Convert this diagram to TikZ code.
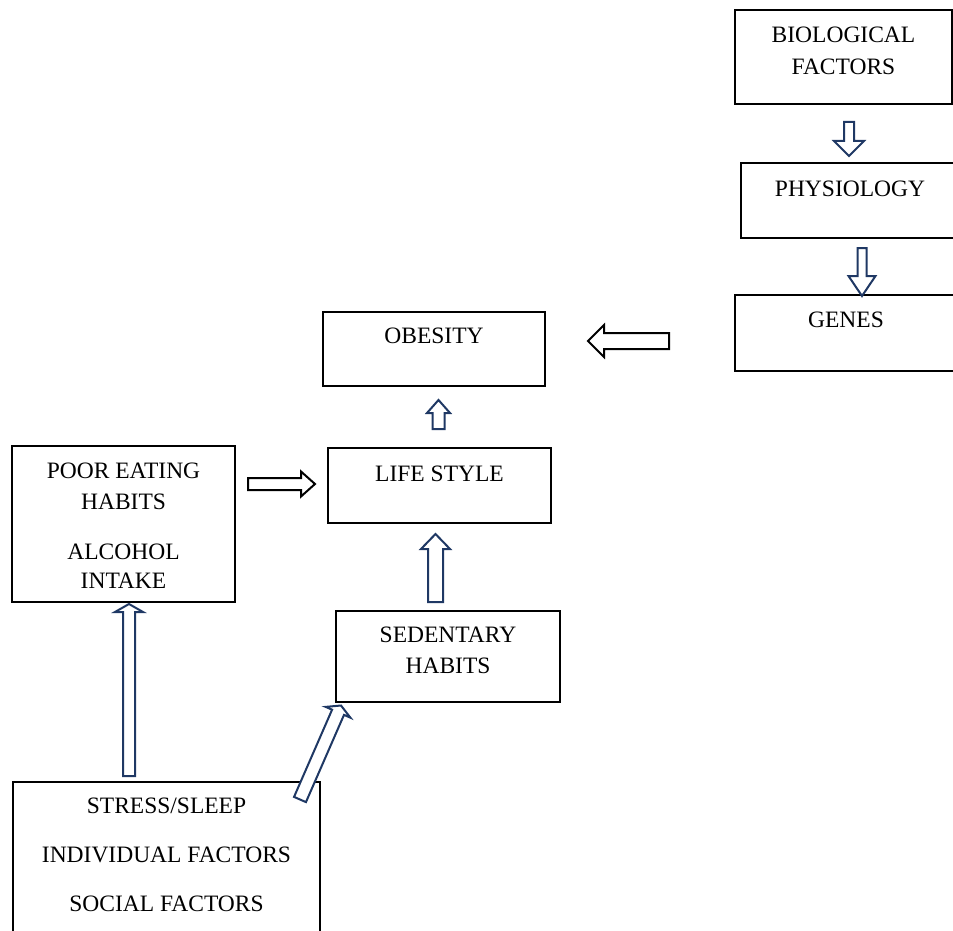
\documentclass[tikz,border=0pt]{standalone}
\usepackage{fontspec}
\setmainfont{Liberation Serif}
\usepackage{xcolor}
\usepackage{tikz}
\usetikzlibrary{calc}
\definecolor{navy}{HTML}{1F3864}
\newcommand{\px}{0.5pt}
% hollow block arrow: [colour]{tail}{tip}{shaft half}{head half}{head length}
\newcommand{\blkarrow}[6][navy]{%
  \coordinate (hb) at ($(#3)!#6!(#2)$);
  \draw[barrow, draw=#1]
    ($(#2)!#4!90:(#3)$) -- ($(hb)!#4!90:(#3)$) -- ($(hb)!#5!90:(#3)$)
    -- (#3) -- ($(hb)!#5!-90:(#3)$) -- ($(hb)!#4!-90:(#3)$)
    -- ($(#2)!#4!-90:(#3)$) -- cycle;}
\tikzset{
  box/.style 2 args={draw, line width=1pt, inner sep=0pt,
              minimum width=#1*\px, minimum height=#2*\px},
  txt/.style={font=\fontsize{11.75}{15}\selectfont, inner sep=0pt,
              align=center, anchor=north},
  barrow/.style={line width=1pt, line join=miter, fill=white},
}
\begin{document}
\begin{tikzpicture}[x=\px, y=-\px]
\useasboundingbox (0,0) rectangle (953,931);
\clip (0,0) rectangle (953,931);

% ---- biological chain ----
\node[box={217}{94}] (bio)   at (843.5,57)  {};
\node[box={218}{75}] (phys)  at (850,200.5) {};
\node[box={222}{76}] (genes) at (846,333)   {};

% ---- centre column ----
\node[box={222}{74}] (obes) at (434,349)   {};
\node[box={223}{75}] (life) at (439.5,485.5) {};
\node[box={224}{91}] (sed)  at (448,656.5) {};

% ---- left column ----
\node[box={223}{156}] (poor) at (123.5,524) {};
\node[box={307}{178}] (soc)  at (166.5,871) {};

% ---- texts ----
\node[txt] (bio-t)   at ($(bio.north)+(0,18)$)   {BIOLOGICAL\\[1pt]FACTORS};
\node[txt] (phys-t)  at ($(phys.north)+(0,19)$)  {PHYSIOLOGY};
\node[txt] (genes-t) at ($(genes.north)+(0,18)$) {GENES};
\node[txt] (obes-t)  at ($(obes.north)+(0,17)$)  {OBESITY};
\node[txt] (life-t)  at ($(life.north)+(0,19)$)  {LIFE STYLE};
\node[txt] (sed-t)   at ($(sed.north)+(0,17)$)   {SEDENTARY\\[0.5pt]HABITS};
\node[txt] (poor-t)  at ($(poor.north)+(0,18)$)
  {POOR EATING\\[0.5pt]HABITS\\[10pt]ALCOHOL\\[-0.5pt]INTAKE};
\node[txt] (soc-t)   at ($(soc.north)+(0,17)$)
  {STRESS/SLEEP\\[9.5pt]INDIVIDUAL FACTORS\\[9.5pt]SOCIAL FACTORS};

% ---- arrow ends ----
\coordinate (a1s) at ($(bio.south)+(5.5,17)$);
\coordinate (a1t) at ($(phys.north)+(-1,-6)$);
\coordinate (a2s) at ($(phys.south)+(12,9)$);
\coordinate (a2t) at ($(genes.north)+(16,2)$);
\coordinate (a3s) at ($(genes.west)+(-65,8)$);
\coordinate (a3t) at ($(obes.east)+(42,-8)$);
\coordinate (a4s) at ($(life.north)+(-1,-18)$);
\coordinate (a4t) at ($(obes.south)+(4.5,13)$);
\coordinate (a5s) at ($(sed.north)+(-12.5,-8)$);
\coordinate (a5t) at ($(life.south)+(-4,10)$);
\coordinate (a6s) at ($(poor.east)+(12,-40)$);
\coordinate (a6t) at ($(life.west)+(-12,-1.5)$);
\coordinate (a7s) at ($(soc.north)+(-37.5,-5)$);
\coordinate (a7t) at ($(poor.south)+(5.5,1)$);
\coordinate (a8s) at ($(soc.north east)+(-21,18.5)$);
\coordinate (a8t) at ($(sed.south west)+(6,2.5)$);

% ---- block arrows ----
\blkarrow{a1s}{a1t}{2.5pt}{7.5pt}{7.5pt}
\blkarrow{a2s}{a2t}{2.25pt}{6.75pt}{10pt}
\blkarrow[black]{a3s}{a3t}{4pt}{8pt}{8pt}
\blkarrow{a4s}{a4t}{3pt}{5.75pt}{6.5pt}
\blkarrow{a5s}{a5t}{3.75pt}{7.25pt}{7.5pt}
\blkarrow[black]{a6s}{a6t}{3pt}{6.25pt}{7pt}
\blkarrow{a7s}{a7t}{3pt}{7pt}{4pt}
\blkarrow{a8s}{a8t}{3.25pt}{6.75pt}{3.7pt}

\end{tikzpicture}
\end{document}
